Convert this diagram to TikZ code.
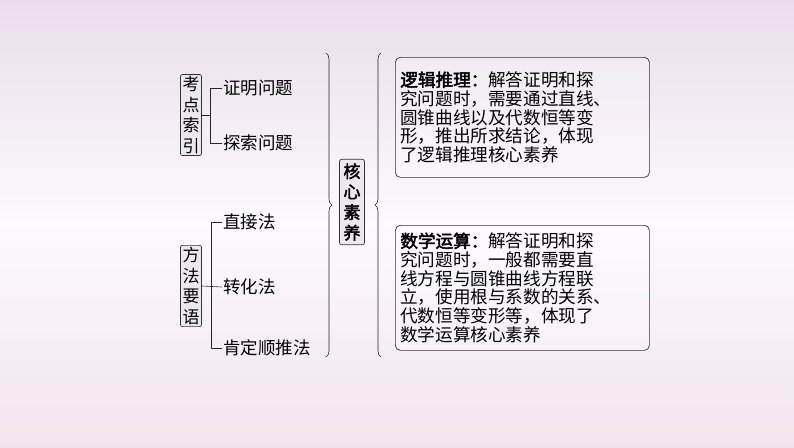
\documentclass[tikz,border=0pt]{standalone}
\usepackage{fontspec}
\newfontfamily\cjk[AutoFakeBold=2.5]{Noto Sans CJK SC}
\usetikzlibrary{decorations.pathreplacing}
\definecolor{bgtop}{HTML}{E9DDEB}
\definecolor{bgbot}{HTML}{F1E4EE}
\definecolor{boxfill}{HTML}{ECE9EE}
\tikzset{%
  % Specifications for style of nodes:
      tagbox/.style = {rectangle, rounded corners=2pt, draw=black!80, line width=0.7pt,
                       fill=boxfill, inner sep=2pt, align=center, font=\cjk\fontsize{17}{20.5}\selectfont},
     textbox/.style = {rectangle, rounded corners=5pt, draw=black!80, line width=0.7pt,
                       fill=white, fill opacity=0.25, text opacity=1, align=left,
                       text width=244pt, inner sep=5pt, font=\cjk\fontsize{17.6}{18.8}\selectfont},
        item/.style = {anchor=west, inner sep=1pt, font=\cjk\fontsize{17.5}{20}\selectfont},
        link/.style = {draw=black!85, line width=0.6pt},
}
\begin{document}
\begin{tikzpicture}[x=1pt, y=-1pt]
  \shade[top color=bgtop, bottom color=bgbot, middle color=white!85!bgtop] (0,0) rectangle (794,447);
  \useasboundingbox (0,0) rectangle (794,447);

  % left part: index and methods
  \node (index)  [tagbox] at (191,115) {考\\点\\索\\引};
  \node (proof)  [item] at (222,88)  {证明问题};
  \node (explore)[item] at (222,143) {探索问题};
  \node (method) [tagbox] at (191,286) {方\\法\\要\\语};
  \node (direct) [item] at (222,222) {直接法};
  \node (convert)[item] at (222,287) {转化法};
  \node (forward)[item] at (222,348) {肯定顺推法};

  \draw[link] (index.east) -- ++(8,0);
  \draw[link] (proof.west) -| ([xshift=8pt]index.east) |- (explore.west);
  \draw[link] (method.east) -- (convert.west);
  \draw[link] (direct.west) -| ([xshift=9pt]method.east) |- (forward.west);

  % core literacy
  \node (core) [tagbox, inner sep=4pt] at (352,202) {\textbf{核}\\\textbf{心}\\\textbf{素}\\\textbf{养}};
  \coordinate (bt) at (326,53);
  \coordinate (bb) at (326,357);
  \draw[link, decorate, decoration={brace, amplitude=6pt, aspect=0.5}] (bt) -- (bb);
  \coordinate (ct) at (381,53);
  \coordinate (cb) at (381,357);
  \draw[link, decorate, decoration={brace, amplitude=6pt, mirror, aspect=0.5}] (ct) -- (cb);

  % right part: the two literacies
  \node (logic) [textbox, anchor=north west, minimum height=120pt] at (395,57)
    {\textbf{逻辑推理：}解答证明和探\\究问题时，需要通过直线、\\圆锥曲线以及代数恒等变\\形，推出所求结论，体现\\了逻辑推理核心素养};
  \node (calc) [textbox, anchor=north west, minimum height=125pt] at (395,225)
    {\textbf{数学运算：}解答证明和探\\究问题时，一般都需要直\\线方程与圆锥曲线方程联\\立，使用根与系数的关系、\\代数恒等变形等，体现了\\数学运算核心素养};
\end{tikzpicture}
\end{document}
